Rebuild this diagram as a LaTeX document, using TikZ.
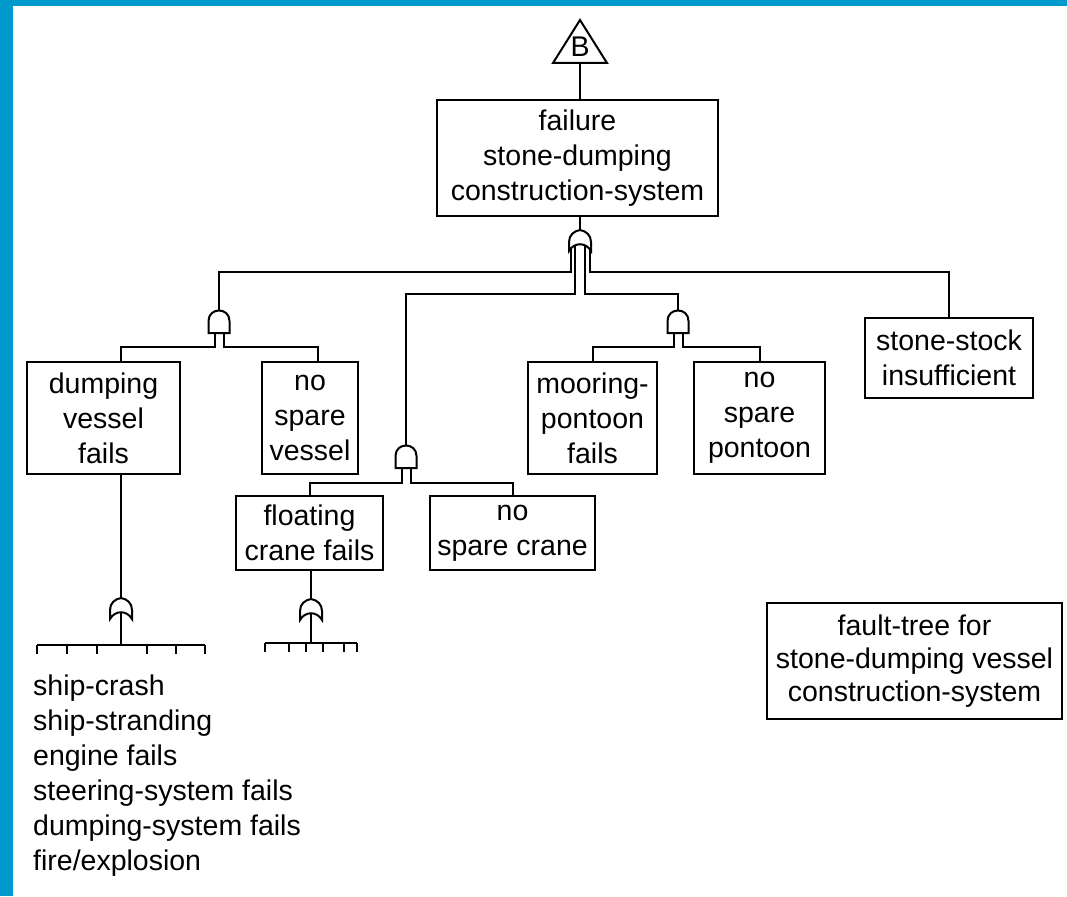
\documentclass[tikz,border=0pt]{standalone}
\usepackage{fontspec}
\setmainfont{Liberation Sans}
\definecolor{frameblue}{RGB}{0,153,204}
\pgfdeclarelayer{paper}
\pgfdeclarelayer{wires}
\pgfsetlayers{paper,wires,main}
\tikzset{
  x=1pt, y=-1pt,
  txt/.style={font=\fontsize{28.5}{35}\selectfont},
  box/.style={draw, line width=2.2pt, align=center, inner sep=0pt, txt},
  wire/.style={line width=2pt},
  andgate/.pic={
    \draw[wire, fill=white] (-10.5,0) -- (-10.5,-12)
      .. controls (-10.5,-26) and (10.5,-26) .. (10.5,-12) -- (10.5,0) -- cycle;
    \coordinate (-top) at (0,-23);
    \coordinate (-l) at (-4.5,-1);
    \coordinate (-r) at (4.5,-1);
  },
  orgate/.pic={
    \draw[wire, fill=white] (-11,21) -- (-11,12)
      .. controls (-11,5) and (-6,1) .. (0,0)
      .. controls (6,1) and (11,5) .. (11,12) -- (11,21)
      .. controls (6,12) and (-6,12) .. cycle;
    \coordinate (-tip) at (0,0);
    \coordinate (-in) at (0,10);
    \coordinate (-ol) at (-9.5,10);
    \coordinate (-or) at (9.5,10);
    \coordinate (-il) at (-5,10);
    \coordinate (-ir) at (5,10);
  },
}
\begin{document}
\begin{tikzpicture}
  % page and frame
  \path[use as bounding box] (0,0) rectangle (1067,896);
  \begin{pgfonlayer}{paper}
    \fill[white] (0,0) rectangle (1067,896);
    \fill[frameblue] (0,0) rectangle (13,896);
    \fill[frameblue] (0,0) rectangle (1067,6);
  \end{pgfonlayer}

  % transfer symbol
  \draw[wire, fill=white] (553,63) -- (580,20) -- (607,63) -- cycle;
  \node[txt, inner sep=0pt] (b) at (580,47) {B};
  \coordinate (tri) at (580,63);

  % events
  \node[box, minimum width=281pt, minimum height=116pt] (top) at (577.5,158)
    {failure\\stone-dumping\\construction-system};
  \node[box, minimum width=153pt, minimum height=112pt] (dv) at (103.5,418)
    {dumping\\vessel\\fails};
  \node[box, minimum width=96pt, minimum height=112pt] (nsv) at (310,418)
    {no\\spare\\vessel};
  \node[box, minimum width=129pt, minimum height=112pt] (mp) at (592.5,418)
    {mooring-\\pontoon\\fails};
  \node[box, minimum width=131pt, minimum height=112pt] (nsp) at (759.5,418)
    {no\\spare\\pontoon};
  \node[box, minimum width=168pt, minimum height=80pt] (ss) at (949,358)
    {stone-stock\\insufficient};
  \node[box, minimum width=147pt, minimum height=74pt] (fc) at (309.5,533)
    {floating\\crane fails};
  \node[box, minimum width=165pt, minimum height=74pt] (nsc) at (512.5,533)
    {no\\spare crane};
  \node[box, minimum width=295pt, minimum height=116pt,
        font=\fontsize{28.5}{33}\selectfont] (ft) at (914.5,661)
    {fault-tree for\\stone-dumping vessel\\construction-system};

  % basic causes of vessel failure
  \node[txt, anchor=west, align=left, inner sep=0pt] (ev) at (33,776)
    {ship-crash\\ship-stranding\\engine fails\\steering-system fails\\dumping-system fails\\fire/explosion};

  % gates
  \pic (or0) at (580,230) {orgate};
  \pic (g1) at (219,333) {andgate};
  \pic (g2) at (678,333) {andgate};
  \pic (g3) at (406,468) {andgate};
  \pic (or1) at (121,598) {orgate};
  \pic (or2) at (311,599) {orgate};

  \coordinate (bar1) at (121,645);
  \coordinate (bar2) at (311,643);

  % connectors
  \begin{pgfonlayer}{wires}
    \draw[wire] (tri) -- (top.north -| tri);
    \draw[wire] (top.south -| or0-tip) -- (or0-tip);
    \draw[wire] (or0-ol) -- ++(0,32) -| (g1-top);
    \draw[wire] (or0-or) -- ++(0,32) -| (ss.north);
    \draw[wire] (or0-il) -- ++(0,54) -| (g3-top);
    \draw[wire] (or0-ir) -- ++(0,54) -| (g2-top);

    \draw[wire] (g1-l) -- ++(0,15) -| ([xshift=17.5pt]dv.north);
    \draw[wire] (g1-r) -- ++(0,15) -| ([xshift=8pt]nsv.north);
    \draw[wire] (g2-l) -- ++(0,15) -| (mp.north);
    \draw[wire] (g2-r) -- ++(0,15) -| (nsp.north);
    \draw[wire] (g3-l) -- ++(0,16) -| (fc.north);
    \draw[wire] (g3-r) -- ++(0,16) -| (nsc.north);

    \draw[wire] (dv.south -| or1-tip) -- (or1-tip);
    \draw[wire] (or1-in) -- (bar1);
    \draw[wire] (fc.south -| or2-tip) -- (or2-tip);
    \draw[wire] (or2-in) -- (bar2);
  \end{pgfonlayer}

  % input bars
  \draw[wire] ([xshift=-84pt]bar1) -- ([xshift=84pt]bar1);
  \foreach \x in {37,67,97,147,176,205}
    \draw[wire] (\x,645) -- ++(0,9);
  \draw[wire] ([xshift=-46pt]bar2) -- ([xshift=46pt]bar2);
  \foreach \x in {265,289,306,323,344,357}
    \draw[wire] (\x,643) -- ++(0,9);
\end{tikzpicture}
\end{document}
